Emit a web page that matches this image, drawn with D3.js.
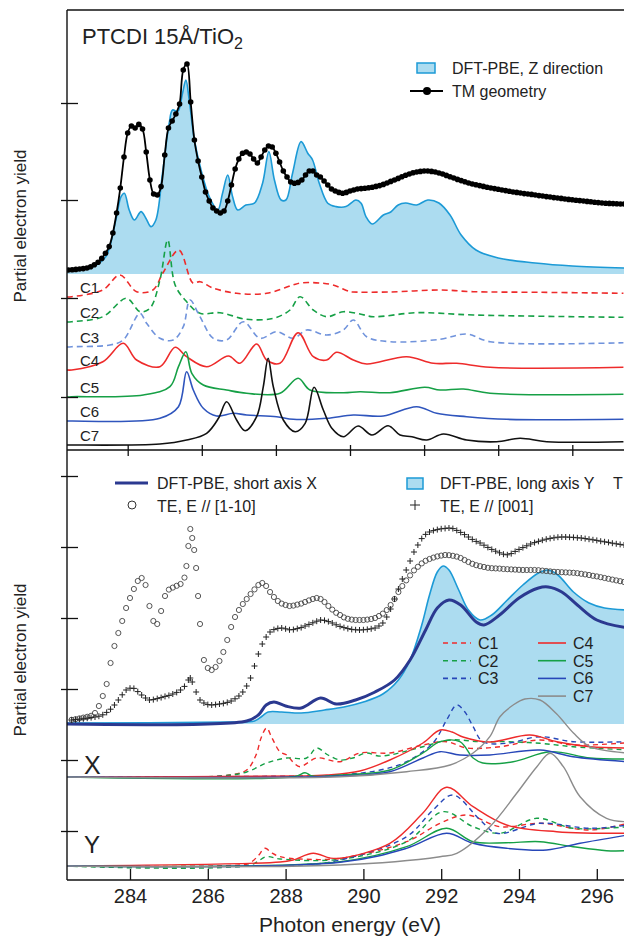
<!DOCTYPE html>
<html lang="en">
<head>
  <title>PTCDI NEXAFS</title>
  <script src="https://cdn.jsdelivr.net/npm/d3@7"></script>
  <style>
    body { margin: 0; background: #fff; }
    text { font-family: "Liberation Sans", Arial, sans-serif; fill: #222; }
  </style>
</head>
<body>
  <script>
    // ---- data (photon energy in eV, intensity in arbitrary units) ----
    const energyTicks = [284, 286, 288, 290, 292, 294, 296];
    const componentNames = ["C1", "C2", "C3", "C4", "C5", "C6", "C7"];

    // top panel: DFT-PBE Z direction and measured TM geometry
    const dftZ = [[282.36,1.5],[283.06,3.7],[283.41,8.7],[283.68,27],[283.82,38.7],[283.91,40.4],[284.04,32],[284.18,27],[284.36,31.2],[284.49,27.9],[284.63,23.7],[284.76,27],[284.94,50.4],[285.12,75.4],[285.21,82],[285.35,81.2],[285.48,90.4],[285.57,97],[285.66,87],[285.80,67],[285.98,52],[286.20,38.7],[286.43,32],[286.56,40.4],[286.70,49.5],[286.83,38.7],[286.97,32],[287.19,34.5],[287.42,35.4],[287.64,45.4],[287.81,61.2],[287.96,47],[288.14,37],[288.27,37],[288.45,50.4],[288.68,66.2],[288.86,60.4],[288.99,57],[289.17,45.4],[289.40,35.4],[289.62,33.7],[289.89,33.7],[290.16,37],[290.30,35.4],[290.43,28.7],[290.6,25],[290.9,29.5],[291.1,31],[291.3,34.5],[291.5,35.5],[291.8,34.5],[292.1,37],[292.4,35.5],[292.7,29.5],[293.0,19.5],[293.4,12],[294.0,8],[295.0,5.5],[296.0,4],[297.4,3]];

    const tmGeometry = [[282.4,2],[282.5,2.1],[282.6,2.3],[282.7,2.5],[282.8,2.7],[282.9,3],[283.0,3.6],[283.1,4.6],[283.2,5.9],[283.3,7.8],[283.4,10.4],[283.5,13.7],[283.6,20.5],[283.7,30.5],[283.8,43],[283.9,58.5],[284.0,70.5],[284.1,74],[284.2,73],[284.3,74.8],[284.4,72.5],[284.5,61],[284.6,47],[284.7,40],[284.8,39.5],[284.9,43.7],[285.0,59.5],[285.1,73],[285.2,76.5],[285.3,80],[285.4,85],[285.5,102],[285.6,105],[285.7,86],[285.8,67],[285.9,56.5],[286.0,48.5],[286.1,41],[286.2,36.5],[286.3,33],[286.4,31.5],[286.5,30.5],[286.6,31.5],[286.7,36.5],[286.8,44.5],[286.9,52.5],[287.0,57.5],[287.1,60.4],[287.2,61],[287.3,60],[287.4,57.5],[287.5,55.5],[287.6,58.5],[287.7,62],[287.8,64],[287.9,63.5],[288.0,60.4],[288.1,56],[288.2,51.5],[288.3,48.5],[288.4,46],[288.5,45.4],[288.6,45.8],[288.7,47],[288.8,49.5],[288.9,51.5],[289.0,51.5],[289.1,49.5],[289.2,48.5],[289.3,46.5],[289.4,44.5],[289.5,42.5],[289.6,41.5],[289.7,40.8],[289.8,40.4],[289.9,40.8],[290.0,41.5],[290.1,42],[290.2,42.5],[290.3,42.7],[290.4,42.9],[290.5,43.1],[290.6,43.4],[290.7,43.8],[290.8,44.2],[290.9,44.8],[291.0,45.5],[291.1,46.3],[291.2,47],[291.3,47.8],[291.4,48.6],[291.5,49.4],[291.6,50],[291.7,50.6],[291.8,51],[291.9,51.3],[292.0,51.5],[292.1,51.5],[292.2,51.3],[292.3,51],[292.4,50.5],[292.5,50],[292.6,49.3],[292.7,48.6],[292.8,48],[292.9,47.3],[293.0,46.7],[293.1,46.1],[293.2,45.5],[293.3,45],[293.4,44.6],[293.5,44.2],[293.6,43.8],[293.7,43.4],[293.8,43],[293.9,42.7],[294.0,42.4],[294.1,42],[294.2,41.7],[294.3,41.4],[294.4,41],[294.5,40.8],[294.6,40.5],[294.7,40.2],[294.8,40],[294.9,39.8],[295.0,39.5],[295.1,39.2],[295.2,39],[295.3,38.7],[295.4,38.5],[295.5,38.2],[295.6,38],[295.7,37.8],[295.8,37.5],[295.9,37.3],[296.0,37.1],[296.1,36.9],[296.2,36.7],[296.3,36.5],[296.4,36.3],[296.5,36.1],[296.6,35.9],[296.7,35.7],[296.8,35.5],[296.9,35.4],[297.0,35.3],[297.1,35.2],[297.2,35.1],[297.3,35],[297.4,35]];

    // top panel components, each relative to its own baseline
    const topOffsets = [-11.5, -24, -36.5, -48, -61.5, -73.5, -85.5];
    const topC1 = [[282.36,0],[282.49,0.15],[283.33,3.5],[283.79,11],[284.24,2.65],[284.68,3.5],[284.95,12],[285.38,23.5],[285.76,7],[285.95,7.65],[286.30,4.5],[286.94,1.85],[287.75,1.85],[288.46,6],[288.73,7.15],[289.27,6.85],[289.54,6],[290.00,2.65],[290.08,2.5],[291.08,2.5],[292.43,3.5],[293.33,2.65],[295.13,2.35],[297.38,1.85]];
    const topC2 = [[282.36,0],[282.49,0.15],[283.33,2.65],[283.97,11.85],[284.33,5.15],[284.60,6.85],[284.87,21],[285.08,41],[285.28,18.5],[285.59,10.15],[285.95,4.35],[286.49,4.65],[287.21,1.35],[287.93,1.85],[288.38,6],[288.65,12.65],[289.01,6],[289.37,2.65],[289.82,5.15],[290.27,4],[290.63,2.65],[291.80,4.65],[293.33,3.5],[297.38,2.35]];
    const topC3 = [[282.36,0],[282.49,0.15],[283.52,1],[283.88,3.5],[284.33,16.85],[284.51,11.85],[284.87,4.35],[285.23,3.5],[285.50,10.15],[285.68,23.5],[285.95,15.15],[286.31,4.35],[286.67,3.5],[287.12,12.65],[287.57,4.35],[288.02,7.65],[288.47,4.35],[288.83,8.5],[289.37,6],[289.82,8.5],[290.09,13.5],[290.45,5.15],[291.08,2.65],[292.43,3.85],[293.15,6.5],[293.78,2.65],[297.38,2.15]];
    const topC4 = [[282.36,0],[282.49,0],[283.33,4.15],[283.88,13.35],[284.24,5],[284.87,1.65],[285.28,11.35],[285.59,6.65],[286.13,1.65],[286.72,7],[287.03,3.35],[287.48,13],[287.75,5],[288.11,3.35],[288.60,18.65],[289.01,6.65],[289.37,5],[289.64,8.85],[290.09,5],[290.45,3],[291.53,6.65],[292.25,3.35],[292.88,3.35],[293.78,1.35],[297.38,1.35]];
    const topC5 = [[282.36,0],[282.49,0.15],[284.42,1],[285.14,5.15],[285.37,15.15],[285.57,22.65],[285.73,11.85],[286.04,6],[286.67,3.5],[287.21,1.85],[288.11,1.85],[288.60,9.35],[288.92,3.5],[289.82,2.15],[290.27,2.65],[291.08,2.15],[292.02,4.85],[292.43,3.5],[293.06,4],[293.78,1.85],[297.38,1.35]];
    const topC6 = [[282.36,0],[282.49,0],[284.87,1.35],[285.37,7.15],[285.59,24.65],[285.77,15.5],[286.04,6.35],[286.40,2.5],[286.85,3.85],[287.21,3],[288.02,2.15],[288.47,0.85],[289.37,1.35],[290.09,3],[290.90,2.5],[291.80,7.15],[292.34,3.85],[293.15,2.15],[294.23,0.85],[297.38,0.85]];
    const topC7 = [[282.36,0],[282.49,0],[284.87,0.5],[285.59,2.5],[286.13,5.85],[286.45,13.35],[286.67,21.65],[286.94,12.5],[287.17,7.15],[287.48,14.15],[287.66,29.15],[287.79,43.35],[287.93,29.15],[288.20,12.5],[288.52,6.65],[288.79,10.85],[289.03,28.85],[289.28,17.5],[289.51,8.35],[289.82,4.15],[290.22,9.5],[290.59,5],[291.03,9.65],[291.35,5],[291.67,4.15],[292.07,2.5],[292.52,5.5],[293.15,2.5],[293.96,1.65],[294.59,3.35],[295.31,1.65],[297.38,1.65]];

    // bottom panel: DFT-PBE long axis Y (filled) and short axis X
    const dftY = [[282.3,0.5],[286.5,1],[287.2,1.5],[287.4,4],[287.55,6],[287.9,6],[288.4,5.5],[289.0,7],[289.5,8.5],[290.0,11],[290.5,15],[290.9,22],[291.2,32],[291.5,49.5],[291.7,64.5],[291.9,76],[292.05,79],[292.2,77],[292.45,67],[292.7,57],[293.0,52],[293.3,54.5],[293.7,62],[294.1,69.5],[294.5,75.5],[294.75,77],[295.0,74.5],[295.4,66],[295.8,60.5],[296.2,58],[296.8,57]];
    const dftX = [[282.3,0],[287.0,1.5],[287.3,4.5],[287.5,9.5],[287.7,11],[288.0,9],[288.4,8],[288.9,13],[289.3,10],[289.8,12],[290.3,16],[290.8,22],[291.2,32],[291.6,47],[291.9,58],[292.2,62],[292.5,59.5],[292.9,51],[293.1,49.5],[293.5,54.5],[294.0,63],[294.5,68],[294.75,68.5],[295.1,66],[295.5,59.5],[296.0,52],[296.8,48]];

    // bottom panel: measured TE spectra
    const te110 = [[282.5,2.1],[282.6,2.4],[282.7,2.8],[282.8,3.2],[282.9,3.6],[283.0,4.1],[283.1,5.5],[283.2,9],[283.3,14],[283.4,20],[283.5,30.5],[283.6,39],[283.7,45.5],[283.8,51.5],[283.9,58],[284.0,63],[284.1,67.5],[284.2,71.5],[284.3,73],[284.4,69.5],[284.5,59],[284.6,51.5],[284.7,50],[284.8,56.5],[284.9,64],[285.0,67.2],[285.1,68.2],[285.2,69.1],[285.3,70],[285.4,73.2],[285.45,79],[285.5,89],[285.55,97.5],[285.6,93],[285.65,87],[285.7,78],[285.75,64],[285.8,50],[285.9,32],[286.0,28],[286.1,27],[286.2,28.5],[286.3,31.5],[286.4,36],[286.5,42],[286.6,48.5],[286.7,53.5],[286.8,57],[286.9,60],[287.0,62.5],[287.1,65],[287.2,67.3],[287.3,69.5],[287.4,70.5],[287.5,69],[287.6,66],[287.7,63.5],[287.8,61.5],[287.9,60.2],[288.0,59.5],[288.1,59],[288.2,59.2],[288.3,59.7],[288.4,60.2],[288.5,61],[288.6,61.8],[288.7,62.5],[288.8,63],[288.9,62.5],[289.0,61],[289.1,59],[289.2,57.2],[289.3,55.6],[289.4,54.5],[289.5,53.3],[289.6,52.6],[289.7,52.2],[289.8,52],[289.9,52],[290.0,52],[290.1,52.2],[290.2,52.5],[290.3,53],[290.4,54],[290.5,55.2],[290.6,57],[290.7,59.5],[290.8,62.5],[290.9,66],[291.0,69],[291.1,71.8],[291.2,74.3],[291.3,76.8],[291.4,78.6],[291.5,80.3],[291.6,81.6],[291.7,82.5],[291.8,83.2],[291.9,83.8],[292.0,84.2],[292.1,84.5],[292.2,84.4],[292.3,84.1],[292.4,83.7],[292.5,83],[292.6,82],[292.7,81],[292.8,80.1],[292.9,79.4],[293.0,78.9],[293.1,78.5],[293.2,78.1],[293.3,77.9],[293.4,77.8],[293.5,77.7],[293.6,77.5],[293.7,77.4],[293.8,77.3],[293.9,77.2],[294.0,77.1],[294.1,77],[294.2,77],[294.3,77],[294.4,77],[294.5,76.9],[294.6,76.7],[294.7,76.5],[294.8,76.3],[294.9,76.1],[295.0,76],[295.1,75.9],[295.2,75.8],[295.3,75.7],[295.4,75.6],[295.5,75.4],[295.6,75.1],[295.7,74.8],[295.8,74.5],[295.9,74.1],[296.0,73.8],[296.1,73.4],[296.2,73],[296.3,72.6],[296.4,72.2],[296.5,71.8],[296.6,71.4],[296.7,71],[296.8,70.6]];
    const te001 = [[282.5,2],[282.6,2.2],[282.7,2.4],[282.8,2.6],[282.9,2.9],[283.0,3.2],[283.1,3.5],[283.2,3.9],[283.3,4.6],[283.4,5.8],[283.5,7.4],[283.6,9.5],[283.7,12],[283.8,14.6],[283.9,17],[284.0,17.9],[284.1,17.8],[284.2,16.2],[284.3,14.5],[284.4,13],[284.5,12],[284.6,12.2],[284.7,12.7],[284.8,13.2],[284.9,13.8],[285.0,14.3],[285.1,15],[285.2,15.8],[285.3,17],[285.4,18.8],[285.5,22],[285.55,23],[285.6,21],[285.7,16],[285.8,12],[285.9,10.5],[286.0,9.7],[286.1,9.5],[286.2,9.7],[286.3,10],[286.4,10.3],[286.5,10.8],[286.6,11.5],[286.7,12.6],[286.8,14],[286.9,16],[287.0,19],[287.1,23],[287.2,29],[287.3,35],[287.4,40],[287.5,43.5],[287.6,46],[287.7,47.2],[287.8,47.8],[287.9,48],[288.0,47.6],[288.1,47.1],[288.2,47.2],[288.3,47.7],[288.4,48.2],[288.5,49],[288.6,49.8],[288.7,50.6],[288.8,51.4],[288.9,52],[289.0,51.8],[289.1,51.2],[289.2,50.5],[289.3,49.6],[289.4,48.8],[289.5,48.2],[289.6,47.7],[289.7,47.3],[289.8,47.1],[289.9,47],[290.0,47.1],[290.1,47.3],[290.2,47.6],[290.3,48],[290.4,49],[290.5,50.5],[290.6,53.5],[290.7,57.5],[290.8,62.5],[290.9,67.5],[291.0,72.5],[291.1,77],[291.2,81.5],[291.3,86],[291.4,89.5],[291.5,92.7],[291.6,94.8],[291.7,96],[291.8,96.7],[291.9,97.2],[292.0,97.6],[292.1,97.8],[292.2,98],[292.3,97.7],[292.4,96.8],[292.5,95.8],[292.6,94.7],[292.7,93.5],[292.8,92.3],[292.9,91.3],[293.0,90.5],[293.1,89.4],[293.2,88.3],[293.3,87.3],[293.4,86.4],[293.5,85.6],[293.6,84.9],[293.7,84.6],[293.8,85.2],[293.9,86.3],[294.0,87.3],[294.1,88.2],[294.2,89.1],[294.3,90],[294.4,90.7],[294.5,91.3],[294.6,91.9],[294.7,92.4],[294.8,92.8],[294.9,93.1],[295.0,93.4],[295.1,93.5],[295.2,93.5],[295.3,93.4],[295.4,93.3],[295.5,93.1],[295.6,93],[295.7,92.7],[295.8,92.4],[295.9,92.1],[296.0,91.8],[296.1,91.4],[296.2,91.1],[296.3,90.8],[296.4,90.4],[296.5,90.1],[296.6,89.8],[296.7,89.5],[296.8,89.2]];

    // bottom panel components: X and Y projections
    const xOffset = -26.5;
    const yOffset = -71;
    const xC1 = [[282.3,0],[285.8,0],[286.57,1],[287.0,3.5],[287.24,11],[287.37,19.5],[287.51,24.5],[287.65,19.5],[287.86,12.5],[288.03,11],[288.19,7.5],[288.37,5.15],[288.80,9.5],[289.40,7.65],[289.91,12],[290.68,12],[291.53,16],[292.14,17.65],[292.66,14.5],[293.51,15.15],[294.54,18.5],[295.39,16],[296.8,17.15]];
    const xC2 = [[282.3,0],[286.31,0.5],[287.0,2.5],[287.51,7],[288.03,9.5],[288.54,9.5],[288.80,14.5],[289.09,11],[289.40,8.5],[289.73,9.5],[290.08,12],[290.38,10.5],[290.68,11],[291.53,15.15],[292.23,18.5],[293.00,17.65],[293.68,17.65],[294.54,16.85],[295.39,15.15],[296.8,13.5]];
    const xC3 = [[282.3,0],[288.37,0.5],[289.40,1],[290.43,3.5],[291.11,7.65],[291.79,17],[292.14,28.5],[292.40,36],[292.61,32.5],[292.82,25.15],[293.07,17.65],[293.68,16.85],[294.54,20.15],[295.39,17.65],[296.8,17.65]];
    const xC4 = [[282.3,0],[288.37,0.5],[289.06,1],[289.91,3],[290.68,8.5],[291.53,17],[291.97,23.5],[292.28,22.5],[292.56,20],[293.25,17.5],[294.28,21],[294.97,17.65],[295.83,15.15],[296.8,14.5]];
    const xC5 = [[282.3,0],[288.24,0.25],[288.50,2.15],[288.68,0.5],[289.40,1],[290.68,3.5],[291.53,12],[291.97,17.65],[292.48,17.65],[292.82,9.5],[293.07,7],[293.85,7.65],[294.80,12.65],[295.83,9.5],[296.8,9]];
    const xC6 = [[282.3,0],[289.40,0.5],[290.68,2.65],[291.53,9.5],[291.97,12.65],[292.48,11],[293.25,11],[294.54,13.5],[295.39,10.15],[296.8,7.65]];
    const xC7 = [[282.3,0],[289.40,0.15],[291.11,2.65],[292.23,6],[292.82,12],[293.25,20.15],[293.51,30.15],[293.85,36],[294.15,39],[294.54,38.5],[294.97,31.5],[295.40,22],[295.83,15.15],[296.8,12]];
    const yC1 = [[282.3,0],[286.83,0.5],[287.08,1.5],[287.29,5],[287.47,8.85],[287.65,6.5],[287.86,4.65],[288.37,3.5],[289.40,3.85],[291.11,12.15],[291.97,21.35],[292.66,25.5],[293.51,19.65],[294.54,21.35],[295.83,18],[296.8,21.35]];
    const yC2 = [[282.3,0],[287.08,0.5],[287.51,4.65],[287.86,3.5],[289.40,3.35],[291.11,12.15],[292.05,27.15],[292.82,19.65],[293.51,16.35],[294.46,23.85],[295.39,18.85],[296.8,19.65]];
    const yC3 = [[282.3,0],[288.37,0.5],[289.40,3],[291.11,14.65],[291.79,28],[292.30,35.5],[293.00,23],[293.43,16.35],[294.54,21.35],[295.83,18.85],[296.8,20.5]];
    const yC4 = [[282.3,0],[287.86,2],[288.19,3],[288.71,6.35],[289.14,4],[289.40,3.85],[290.68,11.35],[291.53,26.5],[292.14,39.35],[292.82,29.65],[293.68,20.5],[294.97,17.15],[296.8,16.35]];
    const yC5 = [[282.3,0],[289.40,2.15],[291.11,9.65],[292.14,18.85],[292.82,12.15],[293.68,11.65],[294.54,12.15],[295.39,9.65],[296.25,7.65],[296.8,7.65]];
    const yC6 = [[282.3,0],[289.40,1.85],[291.11,8.85],[292.14,16.35],[292.82,11.35],[293.68,8.85],[294.71,8],[295.57,11.35],[296.8,15.5]];
    const yC7 = [[282.3,0],[289.40,0.5],[291.97,4.65],[292.40,6.35],[293.25,19.65],[293.94,36.35],[294.46,49.65],[294.80,56.35],[295.14,49.65],[295.57,34.65],[296.25,23.85],[296.8,22.15]];

    const topTicks = [85.5, 37, -12, -61.5];
    const bottomTicks = [124, 88.5, 53, 17.5, -18, -53.5];

    // ---- styles ----
    const red = "#ee2b2b", green = "#16a046", blue = "#2747b8", gray = "#8c8c8c";
    const compColors = [red, green, blue, red, green, blue, gray];
    const topCompColors = [red, green, "#7093dc", red, green, "#2f55bd", "#111"];
    const dashed = [true, true, true, false, false, false, false];
    const fillBlue = "#acdcf0", edgeBlue = "#1c9ad6", darkBlue = "#2b3990";

    const W = 624, H = 936;
    const plotLeft = 67, plotTop = 10, plotMid = 450, plotBottom = 880;

    const svg = d3.select("body").append("svg")
      .attr("width", W).attr("height", H)
      .style("display", "block");
    svg.append("rect").attr("width", W).attr("height", H).attr("fill", "#fff");

    const xTop = d3.scaleLinear().domain([284, 296]).range([127.7, 572.3]);
    const xBot = d3.scaleLinear().domain([284, 296]).range([130, 596.8]);
    const yTop = d3.scaleLinear().domain([0, 100]).range([274, 74]);
    const yBot = d3.scaleLinear().domain([0, 100]).range([724, 524]);

    const defs = svg.append("defs");
    defs.append("clipPath").attr("id", "clipTop").append("rect")
      .attr("x", plotLeft).attr("y", plotTop).attr("width", W - plotLeft).attr("height", plotMid - plotTop);
    defs.append("clipPath").attr("id", "clipBot").append("rect")
      .attr("x", plotLeft).attr("y", plotMid).attr("width", W - plotLeft).attr("height", plotBottom - plotMid);

    const gTop = svg.append("g").attr("clip-path", "url(#clipTop)");
    const gBot = svg.append("g").attr("clip-path", "url(#clipBot)");

    const lineFn = (x, y, off) => d3.line()
      .x(d => x(d[0])).y(d => y(d[1] + off))
      .curve(d3.curveCatmullRom.alpha(0.5));

    // ---- top panel ----
    gTop.append("path").datum(dftZ)
      .attr("d", d3.area().x(d => xTop(d[0])).y0(yTop(0)).y1(d => yTop(d[1]))
        .curve(d3.curveCatmullRom.alpha(0.5)))
      .attr("fill", fillBlue);
    gTop.append("path").datum(dftZ)
      .attr("d", lineFn(xTop, yTop, 0))
      .attr("fill", "none").attr("stroke", edgeBlue).attr("stroke-width", 1.6);

    const topComps = [topC1, topC2, topC3, topC4, topC5, topC6, topC7];
    topComps.forEach((c, i) => {
      gTop.append("path").datum(c)
        .attr("d", lineFn(xTop, yTop, topOffsets[i]))
        .attr("fill", "none").attr("stroke", topCompColors[i])
        .attr("stroke-width", 1.6)
        .attr("stroke-dasharray", dashed[i] ? "6,4" : null);
      svg.append("text").attr("x", 80).attr("y", yTop(topOffsets[i]) - 4)
        .attr("font-size", 15).text(componentNames[i]);
    });

    gTop.append("path").datum(tmGeometry)
      .attr("d", lineFn(xTop, yTop, 0))
      .attr("fill", "none").attr("stroke", "#000").attr("stroke-width", 1.8);
    gTop.selectAll(".tm").data(tmGeometry).join("circle")
      .attr("cx", d => xTop(d[0])).attr("cy", d => yTop(d[1]))
      .attr("r", 2.8).attr("fill", "#000");

    // ---- bottom panel ----
    gBot.append("path").datum(dftY)
      .attr("d", d3.area().x(d => xBot(d[0])).y0(yBot(0)).y1(d => yBot(d[1]))
        .curve(d3.curveCatmullRom.alpha(0.5)))
      .attr("fill", fillBlue);
    gBot.append("path").datum(dftY)
      .attr("d", lineFn(xBot, yBot, 0))
      .attr("fill", "none").attr("stroke", edgeBlue).attr("stroke-width", 1.6);

    const xComps = [xC1, xC2, xC3, xC4, xC5, xC6, xC7];
    const yComps = [yC1, yC2, yC3, yC4, yC5, yC6, yC7];
    [[xComps, xOffset], [yComps, yOffset]].forEach(([comps, off]) => {
      comps.forEach((c, i) => {
        gBot.append("path").datum(c)
          .attr("d", lineFn(xBot, yBot, off))
          .attr("fill", "none").attr("stroke", compColors[i])
          .attr("stroke-width", 1.4)
          .attr("stroke-dasharray", dashed[i] ? "5,4" : null);
      });
    });

    gBot.append("path").datum(dftX)
      .attr("d", lineFn(xBot, yBot, 0))
      .attr("fill", "none").attr("stroke", darkBlue).attr("stroke-width", 3);

    gBot.selectAll(".te110").data(te110).join("circle")
      .attr("cx", d => xBot(d[0])).attr("cy", d => yBot(d[1]))
      .attr("r", 2.6).attr("fill", "none").attr("stroke", "#444").attr("stroke-width", 0.9);
    gBot.selectAll(".te001").data(te001).join("path")
      .attr("d", d => `M${xBot(d[0]) - 3},${yBot(d[1])}h6M${xBot(d[0])},${yBot(d[1]) - 3}v6`)
      .attr("stroke", "#222").attr("stroke-width", 1);

    // ---- frame and axes ----
    const frame = svg.append("g").attr("stroke", "#111").attr("stroke-width", 1.4);
    frame.append("line").attr("x1", plotLeft).attr("x2", W).attr("y1", plotTop).attr("y2", plotTop);
    frame.append("line").attr("x1", plotLeft).attr("x2", W).attr("y1", plotMid).attr("y2", plotMid);
    frame.append("line").attr("x1", plotLeft).attr("x2", W).attr("y1", plotBottom).attr("y2", plotBottom);
    frame.append("line").attr("x1", plotLeft).attr("x2", plotLeft).attr("y1", plotTop).attr("y2", plotBottom);

    const styleAxis = g => {
      g.select(".domain").remove();
      g.selectAll("line").attr("stroke", "#111").attr("stroke-width", 1.3);
    };

    svg.append("g").attr("transform", `translate(0,${plotMid})`)
      .call(d3.axisBottom(xTop).tickValues(energyTicks).tickSize(6).tickFormat(""))
      .call(styleAxis);
    svg.append("g").attr("transform", `translate(0,${plotMid})`)
      .call(d3.axisBottom(xTop).tickValues(energyTicks).tickSize(-5).tickFormat(""))
      .call(styleAxis);

    const xAxisG = svg.append("g").attr("transform", `translate(0,${plotBottom})`)
      .call(d3.axisBottom(xBot).tickValues(energyTicks).tickSize(-11).tickPadding(9))
      .call(styleAxis);
    xAxisG.selectAll("text").attr("font-size", 20).attr("fill", "#222")
      .attr("font-family", "Liberation Sans, Arial, sans-serif");

    [[yTop, topTicks], [yBot, bottomTicks]].forEach(([y, ticks]) => {
      svg.append("g").attr("transform", `translate(${plotLeft},0)`)
        .call(d3.axisLeft(y).tickValues(ticks).tickSize(-11).tickFormat(""))
        .call(styleAxis);
      svg.append("g").attr("transform", `translate(${plotLeft},0)`)
        .call(d3.axisLeft(y).tickValues(ticks).tickSize(6).tickFormat(""))
        .call(styleAxis);
    });

    // ---- texts ----
    svg.append("text").attr("x", 350).attr("y", 932).attr("text-anchor", "middle")
      .attr("font-size", 21).text("Photon energy (eV)");
    [226, 660].forEach(cy => {
      svg.append("text").attr("transform", `translate(26,${cy}) rotate(-90)`)
        .attr("text-anchor", "middle").attr("font-size", 17).text("Partial electron yield");
    });

    const title = svg.append("text").attr("x", 82).attr("y", 44).attr("font-size", 22);
    title.append("tspan").text("PTCDI 15Å/TiO");
    title.append("tspan").attr("font-size", 16).attr("dy", 5).text("2");

    svg.append("text").attr("x", 84).attr("y", 774).attr("font-size", 25).text("X");
    svg.append("text").attr("x", 84).attr("y", 853).attr("font-size", 24).text("Y");

    // legend top
    svg.append("rect").attr("x", 417).attr("y", 63).attr("width", 18).attr("height", 10)
      .attr("fill", fillBlue).attr("stroke", edgeBlue).attr("stroke-width", 1.5);
    svg.append("text").attr("x", 452).attr("y", 74).attr("font-size", 16).text("DFT-PBE, Z direction");
    svg.append("line").attr("x1", 410).attr("x2", 443).attr("y1", 91).attr("y2", 91)
      .attr("stroke", "#000").attr("stroke-width", 1.8);
    svg.append("circle").attr("cx", 427).attr("cy", 91).attr("r", 4).attr("fill", "#000");
    svg.append("text").attr("x", 452).attr("y", 97).attr("font-size", 16).text("TM geometry");

    // legend bottom
    svg.append("line").attr("x1", 115).attr("x2", 148).attr("y1", 483).attr("y2", 483)
      .attr("stroke", darkBlue).attr("stroke-width", 3);
    svg.append("text").attr("x", 157).attr("y", 489).attr("font-size", 16).text("DFT-PBE, short axis X");
    svg.append("circle").attr("cx", 132).attr("cy", 505).attr("r", 4)
      .attr("fill", "none").attr("stroke", "#333").attr("stroke-width", 1);
    svg.append("text").attr("x", 157).attr("y", 512).attr("font-size", 16).text("TE, E // [1-10]");
    svg.append("rect").attr("x", 407).attr("y", 478).attr("width", 16).attr("height", 11)
      .attr("fill", fillBlue).attr("stroke", edgeBlue).attr("stroke-width", 1.5);
    svg.append("text").attr("x", 440).attr("y", 489).attr("font-size", 16).text("DFT-PBE, long axis Y");
    svg.append("path").attr("d", "M410,505h10M415,500v10").attr("stroke", "#222").attr("stroke-width", 1);
    svg.append("text").attr("x", 440).attr("y", 512).attr("font-size", 16).text("TE, E // [001]");
    svg.append("text").attr("x", 613).attr("y", 489).attr("font-size", 16).text("T");

    // component legend
    componentNames.forEach((name, i) => {
      const col = i < 3 ? 0 : 1;
      const row = i < 3 ? i : i - 3;
      const x0 = col === 0 ? 443 : 538;
      const yy = 643 + row * 17.7;
      svg.append("line").attr("x1", x0).attr("x2", x0 + 28).attr("y1", yy).attr("y2", yy)
        .attr("stroke", compColors[i]).attr("stroke-width", 1.6)
        .attr("stroke-dasharray", dashed[i] ? "5,4" : null);
      svg.append("text").attr("x", x0 + 35).attr("y", yy + 6).attr("font-size", 16).text(name);
    });
  </script>
</body>
</html>
